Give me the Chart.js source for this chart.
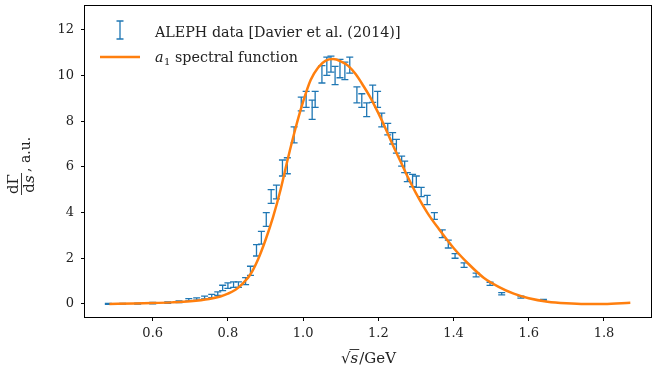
<!DOCTYPE html>
<html>
<head>
<meta charset="utf-8">
<script src="https://cdn.jsdelivr.net/npm/chart.js@4"></script>
<style>
  html, body { margin: 0; padding: 0; background: #fff; }
</style>
</head>
<body>
<canvas id="myChart" width="653" height="371"></canvas>
<script>
// ALEPH data points: sqrt(s) in GeV, value, half error
const dataX = [0.482, 0.52, 0.56, 0.60, 0.64, 0.67, 0.696, 0.717, 0.738, 0.757, 0.773, 0.786, 0.800, 0.815, 0.828,
  0.847, 0.860, 0.876, 0.889, 0.902, 0.915, 0.929, 0.945, 0.958, 0.976, 0.995, 1.008, 1.024, 1.032,
  1.050, 1.063, 1.074, 1.085, 1.098, 1.111, 1.124, 1.143, 1.156, 1.169, 1.185, 1.198, 1.209, 1.225,
  1.238, 1.248, 1.262, 1.270, 1.277, 1.291, 1.301, 1.314, 1.330, 1.349, 1.370, 1.386, 1.404, 1.428,
  1.460, 1.497, 1.528, 1.579, 1.639];
const dataY = [0.0, 0.01, 0.02, 0.04, 0.06, 0.1, 0.18, 0.22, 0.28, 0.35, 0.45, 0.7, 0.8, 0.85, 0.85,
  1.0, 1.45, 2.35, 2.9, 3.7, 4.7, 4.9, 5.95, 6.05, 7.4, 8.75, 8.95, 8.5, 8.95,
  10.05, 10.4, 10.5, 10.0, 10.3, 10.2, 10.45, 9.15, 8.9, 8.5, 9.2, 8.95, 8.05, 7.65,
  7.25, 6.9, 6.25, 6.0, 5.55, 5.4, 5.35, 4.9, 4.55, 3.85, 3.07, 2.62, 2.1, 1.7,
  1.27, 0.88, 0.45, 0.3, 0.17];
const dataErr = [0.02, 0.02, 0.02, 0.03, 0.03, 0.04, 0.05, 0.05, 0.06, 0.07, 0.08, 0.12, 0.12, 0.12, 0.12,
  0.15, 0.2, 0.25, 0.28, 0.3, 0.3, 0.3, 0.35, 0.35, 0.35, 0.3, 0.35, 0.42, 0.35,
  0.38, 0.4, 0.35, 0.4, 0.4, 0.38, 0.35, 0.35, 0.3, 0.3, 0.38, 0.35, 0.3, 0.25,
  0.25, 0.3, 0.22, 0.25, 0.2, 0.27, 0.25, 0.2, 0.2, 0.15, 0.17, 0.17, 0.1, 0.1,
  0.08, 0.07, 0.05, 0.04, 0.03];

// a1 spectral function curve
const curveX = [0.485, 0.55, 0.60, 0.65, 0.70, 0.75, 0.78, 0.80, 0.82, 0.84, 0.86, 0.88, 0.90, 0.92, 0.94,
  0.96, 0.98, 1.00, 1.02, 1.04, 1.06, 1.08, 1.10, 1.12, 1.14, 1.16, 1.18, 1.20, 1.22, 1.24, 1.26,
  1.28, 1.30, 1.33, 1.36, 1.40, 1.44, 1.48, 1.52, 1.56, 1.60, 1.65, 1.70, 1.75, 1.80, 1.87];
const curveY = [0.0, 0.02, 0.04, 0.07, 0.12, 0.22, 0.33, 0.45, 0.62, 0.9, 1.3, 1.95, 2.8, 3.8, 5.0,
  6.4, 7.7, 8.85, 9.8, 10.35, 10.65, 10.72, 10.62, 10.42, 10.05, 9.55, 9.0, 8.35, 7.65, 6.9, 6.2,
  5.5, 4.85, 4.0, 3.3, 2.45, 1.75, 1.15, 0.75, 0.45, 0.25, 0.1, 0.03, 0.0, 0.0, 0.05];

const xTicks = [0.6, 0.8, 1.0, 1.2, 1.4, 1.6, 1.8];
const yTicks = [0, 2, 4, 6, 8, 10, 12];

const legendData = 'ALEPH data [Davier et al. (2014)]';
const legendCurve = ' spectral function';

const blue = '#1f77b4';
const orange = '#ff7f0e';
const serif = '"DejaVu Serif", serif';

// error bars drawn under the curve
const errorBars = {
  id: 'errorBars',
  beforeDatasetsDraw(chart) {
    const ctx = chart.ctx;
    const x = chart.scales.x, y = chart.scales.y;
    ctx.save();
    ctx.strokeStyle = blue;
    ctx.lineWidth = 1.3;
    dataX.forEach((v, i) => {
      const px = x.getPixelForValue(v);
      const top = y.getPixelForValue(dataY[i] + dataErr[i]);
      const bot = y.getPixelForValue(dataY[i] - dataErr[i]);
      ctx.beginPath();
      ctx.moveTo(px, top); ctx.lineTo(px, bot);
      ctx.moveTo(px - 3.5, top); ctx.lineTo(px + 3.5, top);
      ctx.moveTo(px - 3.5, bot); ctx.lineTo(px + 3.5, bot);
      ctx.stroke();
    });
    ctx.restore();
  }
};

// frame, legend and axis titles
const extras = {
  id: 'extras',
  afterDraw(chart) {
    const ctx = chart.ctx;
    const a = chart.chartArea;
    ctx.save();
    ctx.strokeStyle = '#000';
    ctx.lineWidth = 1;
    ctx.strokeRect(Math.round(a.left) - 0.5, Math.round(a.top) - 0.5,
      Math.round(a.right - a.left) + 1, Math.round(a.bottom - a.top) + 1);

    // legend
    ctx.fillStyle = '#222';
    ctx.textBaseline = 'alphabetic';
    ctx.font = '14.3px ' + serif;
    ctx.strokeStyle = blue;
    ctx.lineWidth = 1.3;
    ctx.beginPath();
    ctx.moveTo(120, 21); ctx.lineTo(120, 39);
    ctx.moveTo(116.5, 21); ctx.lineTo(123.5, 21);
    ctx.moveTo(116.5, 39); ctx.lineTo(123.5, 39);
    ctx.stroke();
    ctx.fillText(legendData, 155, 37);

    ctx.strokeStyle = orange;
    ctx.lineWidth = 2.5;
    ctx.beginPath();
    ctx.moveTo(100, 57); ctx.lineTo(140, 57);
    ctx.stroke();
    ctx.font = 'italic 14.3px ' + serif;
    ctx.fillText('a', 155, 62);
    let w = ctx.measureText('a').width;
    ctx.font = '10px ' + serif;
    ctx.fillText('1', 155 + w + 0.5, 65);
    w += ctx.measureText('1').width + 0.5;
    ctx.font = '14.3px ' + serif;
    ctx.fillText(legendCurve, 155 + w, 62);

    // x title: sqrt(s)/GeV
    ctx.font = '15px ' + serif;
    const rad = '\u221A';
    const wr = ctx.measureText(rad).width;
    ctx.font = 'italic 15px ' + serif;
    const ws = ctx.measureText('s').width;
    ctx.font = '15px ' + serif;
    const wg = ctx.measureText('/GeV').width;
    let xs = (a.left + a.right) / 2 - (wr + ws + wg) / 2;
    const by = 363;
    ctx.fillText(rad, xs, by);
    ctx.font = 'italic 15px ' + serif;
    ctx.fillText('s', xs + wr, by);
    ctx.strokeStyle = '#222';
    ctx.lineWidth = 0.9;
    ctx.beginPath();
    ctx.moveTo(xs + wr - 1, by - 13.5); ctx.lineTo(xs + wr + ws + 1, by - 13.5);
    ctx.stroke();
    ctx.font = '15px ' + serif;
    ctx.fillText('/GeV', xs + wr + ws + 1, by);

    // y title: dGamma/ds, a.u.
    ctx.translate(21, 161);
    ctx.rotate(-Math.PI / 2);
    ctx.font = '15px ' + serif;
    const wn = ctx.measureText('d\u0393').width;
    const wd1 = ctx.measureText('d').width;
    ctx.font = 'italic 15px ' + serif;
    const wd2 = ctx.measureText('s').width;
    const fw = Math.max(wn, wd1 + wd2) + 2;
    const fx = -34;
    ctx.font = '15px ' + serif;
    ctx.fillText('d\u0393', fx + (fw - wn) / 2, -3);
    ctx.fillText('d', fx + (fw - wd1 - wd2) / 2, 13);
    ctx.font = 'italic 15px ' + serif;
    ctx.fillText('s', fx + (fw - wd1 - wd2) / 2 + wd1, 13);
    ctx.lineWidth = 0.9;
    ctx.beginPath();
    ctx.moveTo(fx, 0.5); ctx.lineTo(fx + fw, 0.5);
    ctx.stroke();
    ctx.font = '14px ' + serif;
    ctx.fillText(', a.u.', fx + fw + 1, 9);
    ctx.restore();
  }
};

const ctx = document.getElementById('myChart').getContext('2d');
const chart = new Chart(ctx, {
  type: 'scatter',
  data: {
    datasets: [
      {
        label: legendData,
        data: dataX.map((v, i) => ({x: v, y: dataY[i]})),
        pointRadius: 0,
        showLine: false
      },
      {
        label: 'a1' + legendCurve,
        data: curveX.map((v, i) => ({x: v, y: curveY[i]})),
        showLine: true,
        borderColor: orange,
        borderWidth: 2.5,
        pointRadius: 0,
        cubicInterpolationMode: 'monotone'
      }
    ]
  },
  options: {
    responsive: false,
    animation: false,
    layout: { padding: { top: 6, right: 2, left: 0, bottom: 0 } },
    plugins: {
      legend: { display: false },
      tooltip: { enabled: false }
    },
    scales: {
      x: {
        type: 'linear',
        min: 0.42,
        max: 1.925,
        afterBuildTicks: axis => { axis.ticks = xTicks.map(v => ({value: v})); },
        afterFit: axis => { axis.height = 54; axis.paddingLeft = 0; axis.paddingRight = 0; },
        grid: { drawOnChartArea: false, drawTicks: true, tickLength: 4, color: '#000' },
        border: { display: false },
        ticks: {
          color: '#222',
          font: { family: serif, size: 13 },
          padding: 5,
          maxRotation: 0,
          callback: v => v.toFixed(1)
        }
      },
      y: {
        type: 'linear',
        min: -0.57,
        max: 13.04,
        afterBuildTicks: axis => { axis.ticks = yTicks.map(v => ({value: v})); },
        afterFit: axis => { axis.width = 85; axis.paddingTop = 0; axis.paddingBottom = 0; },
        grid: { drawOnChartArea: false, drawTicks: true, tickLength: 4, color: '#000' },
        border: { display: false },
        ticks: {
          color: '#222',
          font: { family: serif, size: 13 },
          padding: 7,
          callback: v => String(v)
        }
      }
    }
  },
  plugins: [errorBars, extras]
});
</script>
</body>
</html>
